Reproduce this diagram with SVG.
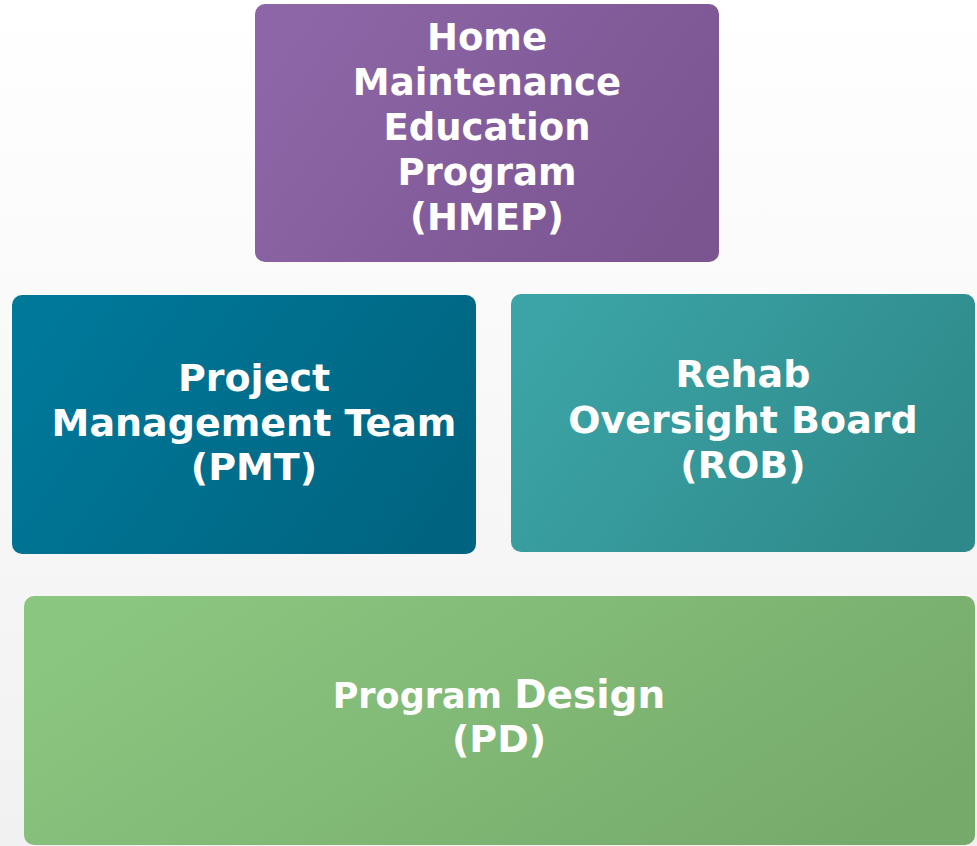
<svg xmlns="http://www.w3.org/2000/svg" width="977" height="846" viewBox="0 0 977 846">
  <defs>
    <linearGradient id="bg" x1="0" y1="0" x2="0" y2="1">
      <stop offset="0" stop-color="#ffffff"/>
      <stop offset="1" stop-color="#f1f1f1"/>
    </linearGradient>
    <linearGradient id="gPurple" x1="0" y1="0.3" x2="1" y2="0.7">
      <stop offset="0" stop-color="#8d66a7"/>
      <stop offset="1" stop-color="#7a5590"/>
    </linearGradient>
    <linearGradient id="gBlue" x1="0" y1="0.3" x2="1" y2="0.7">
      <stop offset="0" stop-color="#00789a"/>
      <stop offset="1" stop-color="#006480"/>
    </linearGradient>
    <linearGradient id="gTeal" x1="0" y1="0.3" x2="1" y2="0.7">
      <stop offset="0" stop-color="#3ca4a6"/>
      <stop offset="1" stop-color="#2e898a"/>
    </linearGradient>
    <linearGradient id="gGreen" x1="0" y1="0.3" x2="1" y2="0.7">
      <stop offset="0" stop-color="#8bc680"/>
      <stop offset="1" stop-color="#76aa6b"/>
    </linearGradient>
  </defs>
  <style>
    .lbl { font-family: "DejaVu Sans", "Liberation Sans", sans-serif; font-weight: bold; fill: #ffffff; text-anchor: middle; }
  </style>
  <rect x="0" y="0" width="977" height="846" fill="url(#bg)"/>
  <g id="connectors"/>
  <g id="hmep">
    <rect x="255" y="4" width="464" height="258" rx="10" fill="url(#gPurple)"/>
    <text class="lbl" font-size="37" x="487" y="50">Home</text>
    <text class="lbl" font-size="37" x="487" y="95">Maintenance</text>
    <text class="lbl" font-size="37" x="487" y="140">Education</text>
    <text class="lbl" font-size="37" x="487" y="185">Program</text>
    <text class="lbl" font-size="37" x="487" y="230">(HMEP)</text>
  </g>
  <g id="pmt">
    <rect x="12" y="295" width="464" height="259" rx="10" fill="url(#gBlue)"/>
    <text class="lbl" font-size="38" x="254" y="391">Project</text>
    <text class="lbl" font-size="38" x="254" y="436">Management Team</text>
    <text class="lbl" font-size="38" x="254" y="480">(PMT)</text>
  </g>
  <g id="rob">
    <rect x="511" y="294" width="464" height="258" rx="10" fill="url(#gTeal)"/>
    <text class="lbl" font-size="38" x="743" y="387">Rehab</text>
    <text class="lbl" font-size="38" x="743" y="433">Oversight Board</text>
    <text class="lbl" font-size="38" x="743" y="478">(ROB)</text>
  </g>
  <g id="pd">
    <rect x="24" y="596" width="951" height="249" rx="10" fill="url(#gGreen)"/>
    <text class="lbl" x="499" y="708"><tspan font-size="35">Program </tspan><tspan font-size="39">Design</tspan></text>
    <text class="lbl" x="499" y="752" font-size="38">(PD)</text>
  </g>
</svg>
